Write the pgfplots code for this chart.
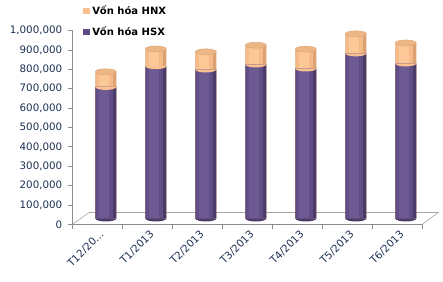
\documentclass[border=0pt]{standalone}
\usepackage{fontspec}
\setmainfont{DejaVu Sans}
\usepackage{pgfplots}
\pgfplotsset{compat=1.18}
\usepackage{pgfplotstable}
\definecolor{hsxlight}{HTML}{6D5A93}
\definecolor{hsxmid}{HTML}{614E86}
\definecolor{hsxdark}{HTML}{4B3B68}
\definecolor{hsx}{HTML}{5E4A86}
\definecolor{hnx}{HTML}{FAC08F}
\definecolor{hnxlight}{HTML}{FCC898}
\definecolor{hnxmid}{HTML}{F5BA88}
\definecolor{hnxdark}{HTML}{DDA272}
\definecolor{hnxtop}{HTML}{EDB785}
\definecolor{ticktext}{HTML}{1B2F52}
\definecolor{axisgray}{HTML}{8C8C8C}
\definecolor{floorgray}{HTML}{A6A6A6}

\pgfplotstableread{
i hsx hnx
0 679000 78000
1 786000 89000
2 769000 91000
3 795000 99000
4 774000 100000
5 852000 101000
6 800000 106000
}\capdata

\pgfdeclareplotmark{cyltop}{%
  \pgfpathellipse{\pgfpointorigin}{\pgfqpoint{10.5pt}{0pt}}{\pgfqpoint{0pt}{3pt}}%
  \pgfusepathqfillstroke}
\pgfdeclareplotmark{cylhalf}{%
  \pgfpathmoveto{\pgfqpoint{-10.5pt}{0pt}}%
  \pgfpatharc{180}{360}{10.5pt and 3pt}%
  \pgfpathclose
  \pgfusepathqfill}

\begin{document}
\begin{tikzpicture}
\useasboundingbox (0,0) rectangle (443pt,281pt);
% front axis: ticks, labels, floor
\begin{axis}[
  at={(72.3pt,56.7pt)}, anchor=south west,
  scale only axis, width=350pt, height=193.8pt,
  xmin=-0.5, xmax=6.5, ymin=0, ymax=1000000,
  clip=false,
  axis lines*=left,
  axis line style={axisgray, line width=0.6pt},
  xtick={0,...,6},
  xticklabels={T12/20…,T1/2013,T2/2013,T3/2013,T4/2013,T5/2013,T6/2013},
  major x tick style={draw=none},
  minor xtick={-0.5,0.5,...,6.5},
  minor x tick style={axisgray, line width=0.6pt},
  minor tick length=4.5pt,
  ytick={0,100000,...,1000000},
  major tick length=4.5pt,
  tick align=outside,
  y tick style={axisgray, line width=0.6pt},
  scaled y ticks=false,
  /pgf/number format/assume math mode=true,
  yticklabel style={/pgf/number format/fixed, /pgf/number format/1000 sep={,}, xshift=-2pt},
  ticklabel style={font=\fontsize{10.3}{12}\selectfont, text=ticktext},
  xticklabel style={rotate=45, anchor=east, inner sep=1pt, xshift=2pt, yshift=-6pt},
]
\draw[floorgray, line width=0.6pt] (axis cs:-0.5,0) -- ++(17pt,11.8pt) -- ++(349pt,0pt) -- (axis cs:6.5,0);
\end{axis}
% bars axis, shifted to mid-depth
\begin{axis}[
  at={(80.8pt,62.5pt)}, anchor=south west,
  scale only axis, width=350pt, height=193.8pt,
  xmin=-0.5, xmax=6.5, ymin=0, ymax=1000000,
  clip=false, hide axis,
  legend style={at={(axis description cs:0.005,1.11)}, anchor=north west,
    draw=none, fill=none, inner sep=0pt,
    nodes={inner sep=2.5pt},
    font=\bfseries\fontsize{10}{11.5}\selectfont,
    row sep=5.5pt, legend cell align=left},
]
\addplot[only marks, mark=cylhalf, mark options={fill=hsxdark}, forget plot]
  table[x=i, y expr=0] {\capdata};
% HNX (orange) cylinder body, from 0 to the total
\addplot[ybar, bar width=21pt, bar shift=0pt, draw=none, fill=hnxdark,
  legend image code/.code={\fill[hnx] (-3pt,-3.3pt) rectangle (4pt,3.3pt);}]
  table[x=i, y expr=\thisrow{hsx}+\thisrow{hnx}] {\capdata};
\addlegendentry{Vốn hóa HNX}
\addplot[ybar, bar width=17pt, bar shift=-1.5pt, draw=none, fill=hnxmid, forget plot]
  table[x=i, y expr=\thisrow{hsx}+\thisrow{hnx}] {\capdata};
\addplot[ybar, bar width=10pt, bar shift=-2pt, draw=none, fill=hnxlight, forget plot]
  table[x=i, y expr=\thisrow{hsx}+\thisrow{hnx}] {\capdata};
% HSX (purple) cylinder body
\addplot[ybar, bar width=21pt, bar shift=0pt, draw=none, fill=hsxdark,
  legend image code/.code={\fill[hsx] (-3pt,-3.3pt) rectangle (4pt,3.3pt);}]
  table[x=i, y=hsx] {\capdata};
\addlegendentry{Vốn hóa HSX}
\addplot[ybar, bar width=17pt, bar shift=-1.5pt, draw=none, fill=hsxmid, forget plot]
  table[x=i, y=hsx] {\capdata};
\addplot[ybar, bar width=10pt, bar shift=-2pt, draw=none, fill=hsxlight, forget plot]
  table[x=i, y=hsx] {\capdata};
\addplot[only marks, mark=cylhalf, mark options={fill=hnx}, forget plot]
  table[x=i, y=hsx] {\capdata};
\addplot[only marks, mark=cyltop, mark options={fill=hnxtop, draw=hnxdark, line width=0.4pt}, forget plot]
  table[x=i, y expr=\thisrow{hsx}+\thisrow{hnx}] {\capdata};
\end{axis}
\end{tikzpicture}
\end{document}
